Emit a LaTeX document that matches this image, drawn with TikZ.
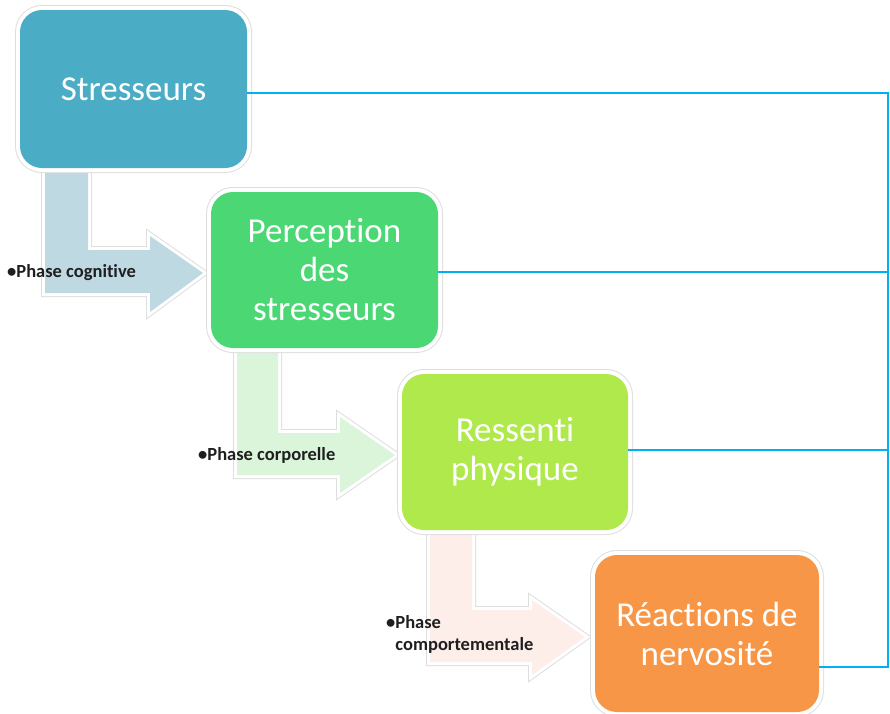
\documentclass[tikz,border=0pt]{standalone}
\usepackage{fontspec}
\setmainfont{Carlito}[Ligatures=NoCommon]
\definecolor{cTeal}{HTML}{4BACC6}
\definecolor{cGreen}{HTML}{4AD774}
\definecolor{cLime}{HTML}{AFE94B}
\definecolor{cOrange}{HTML}{F79646}
\definecolor{aBlue}{HTML}{BFD9E3}
\definecolor{aGreen}{HTML}{DBF5DA}
\definecolor{aPeach}{HTML}{FDEEEA}
\definecolor{cLine}{HTML}{00B0F0}
\newcommand{\brk}{\kern0pt{}}
\tikzset{
  stagebox/.style={rounded corners=22pt, inner sep=0pt, align=center,
    text=white, font=\fontsize{35}{39}\selectfont,
    preaction={draw=black!13, line width=10pt},
    preaction={draw=white, line width=8pt}},
  bentarrow/.style={line join=round,
    preaction={draw=black!13, line width=8pt},
    preaction={draw=white, line width=6pt}},
  phaselabel/.style={inner sep=0pt, anchor=west, align=left, text=black!88,
    font=\bfseries\fontsize{18.5}{22}\selectfont},
  link/.style={draw=cLine, line width=2pt}
}
\begin{document}
\begin{tikzpicture}[x=1pt,y=-1pt]
\useasboundingbox (0,0) rectangle (890,713);
% bent arrows
\path[bentarrow, fill=aBlue] (45,150) -- (45,293) -- (150,293) -- (150,312) -- (203,273) -- (150,236) -- (150,250) -- (88,250) -- (88,150) -- cycle;
\path[bentarrow, fill=aGreen] (237,330) -- (237,475) -- (340,475) -- (340,493) -- (395,455) -- (340,417) -- (340,433) -- (278,433) -- (278,330) -- cycle;
\path[bentarrow, fill=aPeach] (430,510) -- (430,662) -- (532,662) -- (532,675) -- (585,637) -- (532,600) -- (532,610) -- (472,610) -- (472,510) -- cycle;
% boxes
\node[stagebox, fill=cTeal, minimum width=227pt, minimum height=158pt] (b1) at (133.5,89) {Stresseurs};
\node[stagebox, fill=cGreen, minimum width=227pt, minimum height=156pt] (b2) at (324.5,270) {Percept\brk ion\\des\\stresseurs};
\node[stagebox, fill=cLime, minimum width=226pt, minimum height=156pt] (b3) at (515,452) {Ressent\brk i\\physique};
\node[stagebox, fill=cOrange, minimum width=224pt, minimum height=157pt] (b4) at (707,633.5) {Réact\brk ions de\\nervosité};
% connectors
\coordinate (r1) at (888,93);
\coordinate (r2) at (888,272);
\coordinate (r3) at (888,450);
\coordinate (r4) at (888,667);
\draw[link] (b1.east |- r1) -- (r1) -- (r4) -- (b4.east |- r4);
\draw[link] (b2.east |- r2) -- (r2);
\draw[link] (b3.east |- r3) -- (r3);
% labels
\node[phaselabel] (l1) at (7,273) {•Phase cognit\brk ive};
\node[phaselabel] (l2) at (198,455) {•Phase corporelle};
\node[phaselabel] (l3) at (386,634) {•Phase\\\hphantom{•}comportementale};
\end{tikzpicture}
\end{document}
